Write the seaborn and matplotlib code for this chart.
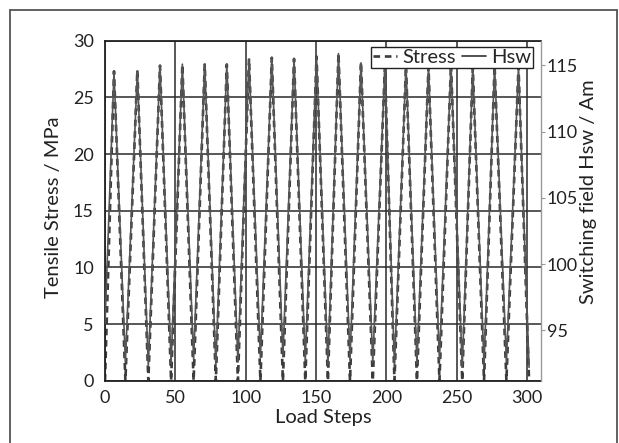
import matplotlib
matplotlib.use('Agg')
import numpy as np
import pandas as pd
import seaborn as sns
import matplotlib.pyplot as plt
from matplotlib.lines import Line2D

# vertices of the load cycles (peaks and troughs)
steps = [0, 6.4, 14.5, 23.0, 30.8, 39.1, 47.0, 55.0, 63.0, 70.9, 78.8, 86.6, 94.5,
         102.4, 110.5, 118.6, 126.5, 134.4, 142.4, 150.4, 158.5, 166.0, 174.2,
         182.0, 190.4, 199.0, 205.8, 214.0, 221.8, 230.0, 237.8, 246.0, 254.0,
         261.5, 269.5, 277.0, 285.4, 294.0, 301.5]
stress = [0, 27.3, 0, 27.4, 0, 27.8, 0, 27.9, 0, 27.9, 0, 27.9, 0,
          28.4, 0, 28.5, 0, 28.4, 0, 28.6, 0, 28.9, 0,
          28.1, 0, 27.7, 0, 27.8, 0, 27.7, 0, 27.9, 0,
          27.6, 0, 27.8, 0, 27.7, 0]
hsw = [95.5, 114.5, 92.6, 114.6, 92.3, 115.0, 92.5, 115.1, 92.8, 115.1, 92.4, 115.1, 92.6,
       115.5, 92.9, 115.6, 93.0, 115.5, 92.7, 115.7, 92.4, 115.9, 92.8,
       115.2, 92.6, 114.9, 92.3, 115.0, 92.5, 114.9, 92.7, 115.1, 92.2,
       114.8, 92.4, 115.0, 92.6, 114.9, 92.2]

df = pd.DataFrame({'step': steps, 'stress': stress, 'hsw': hsw})

line_col = '#3c3c3c'
grid_col = '#2a2a2a'
text_col = '#222222'

sns.set_style("white")
plt.rcParams['font.family'] = ['Lato', 'DejaVu Sans']

fig = plt.figure(figsize=(6.19, 4.43), dpi=100)
ax = fig.add_axes([105/619, 1-380.7/443, 436/619, 340/443])
ax2 = ax.twinx()

sns.lineplot(data=df, x='step', y='stress', ax=ax, color=line_col, linewidth=1.9,
             linestyle=(0, (2.5, 1.8)), sort=False)
sns.lineplot(data=df, x='step', y='hsw', ax=ax2, color='#555555', linewidth=1.2,
             sort=False)

ax.set_xlim(0, 310)
ax.set_ylim(0, 30)
ax2.set_ylim(91.19, 116.87)
ax.set_xticks([0, 50, 100, 150, 200, 250, 300])
ax.set_yticks([0, 5, 10, 15, 20, 25, 30])
ax2.set_yticks([95, 100, 105, 110, 115])

ax.grid(True, color=grid_col, linewidth=1.1)
ax2.grid(False)

ax.tick_params(axis='x', length=0, labelsize=13, pad=7, labelcolor=text_col)
ax.tick_params(axis='y', length=0, labelsize=13, pad=8, labelcolor=text_col)
ax2.tick_params(axis='y', length=3, width=0.8, color='#999999', labelsize=13,
                pad=1, labelcolor=text_col)

for s in ['left', 'bottom', 'top']:
    ax.spines[s].set_color(text_col)
    ax.spines[s].set_linewidth(1.3)
    ax2.spines[s].set_visible(False)
ax.spines['right'].set_visible(False)
ax2.spines['right'].set_color('#999999')
ax2.spines['right'].set_linewidth(1.0)

ax.set_xlabel('Load Steps', fontsize=14.5, color=text_col, labelpad=2)
ax.set_ylabel('Tensile Stress / MPa', fontsize=14.5, color=text_col)
ax2.set_ylabel('Switching field Hsw / Am', fontsize=14.5, color=text_col, rotation=90)
ax.yaxis.set_label_coords(-0.099, 0.51)
ax2.yaxis.set_label_coords(1.09, 0.555)

handles = [Line2D([], [], color=line_col, linewidth=1.9, linestyle=(0, (2.5, 1.8))),
           Line2D([], [], color='#333333', linewidth=1.2)]
leg = ax2.legend(handles, ['Stress', 'Hsw'], ncol=2, loc='upper right',
                 bbox_to_anchor=(0.982, 0.982), borderaxespad=0, frameon=True,
                 fancybox=False, framealpha=1, fontsize=14.5, handlelength=1.2,
                 handletextpad=0.25, columnspacing=0.3, borderpad=0.1)
leg.get_frame().set_edgecolor(text_col)
leg.get_frame().set_linewidth(1.0)

# outer frame of the figure (top, left, right)
for xs, ys in [([10/619, 617/619], [1-10/443, 1-10/443]),
               ([10/619, 10/619], [1-10/443, 0]),
               ([617/619, 617/619], [1-10/443, 0])]:
    fig.add_artist(Line2D(xs, ys, color='#555555', linewidth=1.3,
                          transform=fig.transFigure))

fig.savefig('out.png', dpi=100, facecolor='white')
